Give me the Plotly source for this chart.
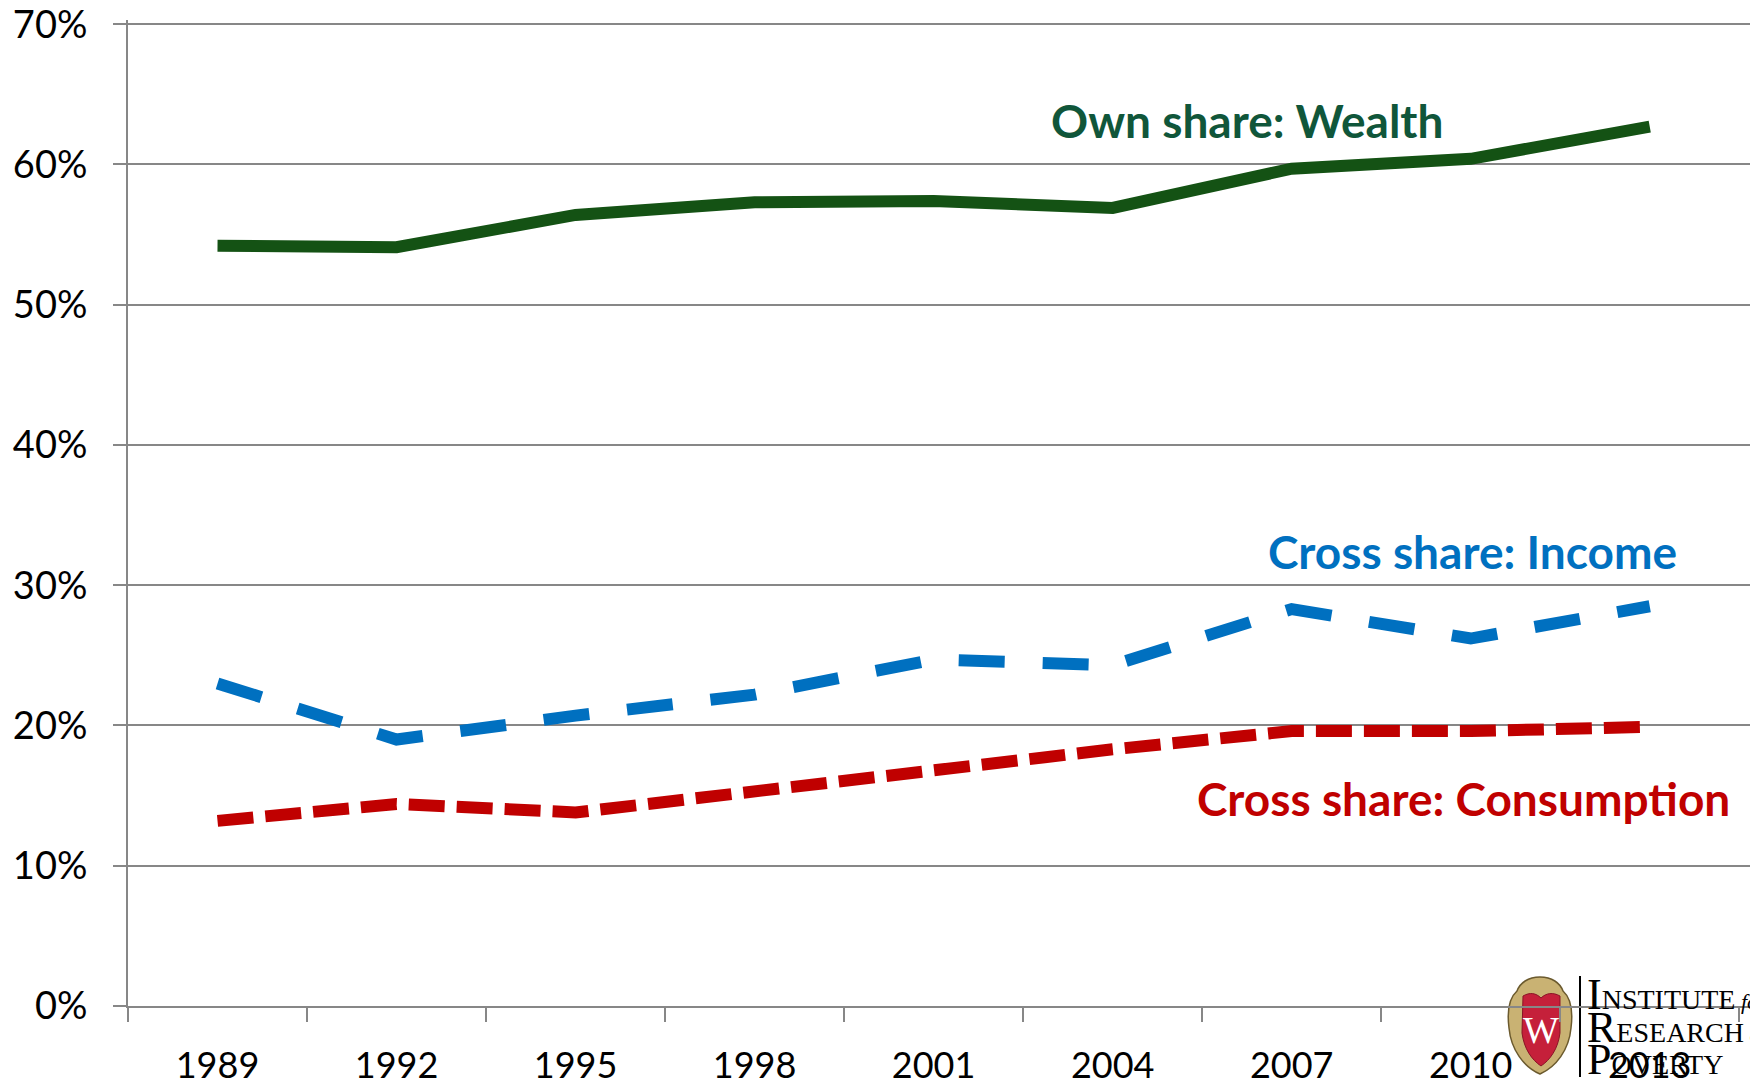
import plotly.graph_objects as go

# ---------------- data ----------------
years = ["1989", "1992", "1995", "1998", "2001", "2004", "2007", "2010", "2013"]
wealth_own = [54.2, 54.1, 56.4, 57.3, 57.4, 56.9, 59.7, 60.4, 62.7]
income_cross = [23.0, 19.0, 20.7, 22.2, 24.7, 24.3, 28.3, 26.2, 28.5]
consumption_cross = [13.2, 14.4, 13.8, 15.3, 16.9, 18.3, 19.6, 19.6, 19.9]
y_ticks = [0, 10, 20, 30, 40, 50, 60, 70]
y_tick_text = ["0%", "10%", "20%", "30%", "40%", "50%", "60%", "70%"]

GREEN_LINE = "#145214"
GREEN_TEXT = "#10563A"
BLUE = "#0070C0"
RED = "#C00000"
GRID = "#878787"

W_PX, H_PX = 1750, 1087
L, R, T, B = 128, 0, 20, 81
PW = W_PX - L - R
PH = H_PX - T - B


def px(x):
    return (x - L) / PW


def py(y):
    return (H_PX - B - y) / PH


def path(cmds):
    out = []
    for c in cmds:
        if isinstance(c, str):
            out.append(c)
        else:
            out.append("%.5f,%.5f" % (px(c[0]), py(c[1])))
    return " ".join(out)


fig = go.Figure()

fig.add_trace(go.Scatter(x=years, y=wealth_own, mode="lines",
                         line=dict(color=GREEN_LINE, width=12), showlegend=False))
fig.add_trace(go.Scatter(x=years, y=income_cross, mode="lines",
                         line=dict(color=BLUE, width=12, dash="46px,38px"), showlegend=False))
fig.add_trace(go.Scatter(x=years, y=consumption_cross, mode="lines",
                         line=dict(color=RED, width=12, dash="36px,12px"), showlegend=False))

LABEL_FONT = "Lato, 'Open Sans', sans-serif"

annotations = [
    dict(text="<b>Own share: Wealth</b>", x=px(1247), y=py(121), xref="paper", yref="paper",
         showarrow=False, xanchor="center", yanchor="middle",
         font=dict(family=LABEL_FONT, size=46, color=GREEN_TEXT)),
    dict(text="<b>Cross share: Income</b>", x=px(1472), y=py(551), xref="paper", yref="paper",
         showarrow=False, xanchor="center", yanchor="middle",
         font=dict(family=LABEL_FONT, size=46, color=BLUE)),
    dict(text="<b>Cross share: Consumption</b>", x=px(1463), y=py(798), xref="paper", yref="paper",
         showarrow=False, xanchor="center", yanchor="middle",
         font=dict(family=LABEL_FONT, size=46, color=RED)),
]

# ---------------- logo (decoration) ----------------
SERIF = "'Liberation Serif', 'DejaVu Serif', serif"
shapes = [
    dict(type="path", xref="paper", yref="paper", layer="below",
         path=path(["M", (1540, 977), "C", (1552, 977), (1560, 983), (1563, 991),
                    "C", (1571, 998), (1573, 1012), (1571, 1028),
                    "C", (1569, 1050), (1556, 1067), (1540, 1074),
                    "C", (1524, 1067), (1511, 1050), (1509, 1028),
                    "C", (1507, 1012), (1509, 998), (1517, 991),
                    "C", (1520, 983), (1528, 977), (1540, 977), "Z"]),
         fillcolor="#C9B273", line=dict(color="#6B5A2E", width=1.5)),
    dict(type="path", xref="paper", yref="paper", layer="below",
         path=path(["M", (1523, 996), "C", (1530, 992), (1536, 993), (1541, 998),
                    "C", (1546, 993), (1553, 992), (1560, 996),
                    "L", (1560, 1033),
                    "C", (1558, 1049), (1550, 1060), (1541, 1066),
                    "C", (1532, 1060), (1524, 1049), (1522, 1033), "Z"]),
         fillcolor="#C5203A", line=dict(color="#8A1426", width=1)),
    dict(type="line", xref="paper", yref="paper", layer="below",
         x0=px(1580), x1=px(1580), y0=py(976), y1=py(1077),
         line=dict(color="black", width=2)),
]

annotations += [
    dict(text="W", x=px(1541), y=py(1030), xref="paper", yref="paper", showarrow=False,
         xanchor="center", yanchor="middle",
         font=dict(family=SERIF, size=38, color="white")),
    dict(text="<span style='font-size:44px'>I</span>NSTITUTE<i><span style='font-size:22px'> fo</span></i>",
         x=px(1585), y=py(994), xref="paper", yref="paper", showarrow=False,
         xanchor="left", yanchor="middle", font=dict(family=SERIF, size=28, color="black")),
    dict(text="<span style='font-size:44px'>R</span>ESEARCH<i><span style='font-size:22px'> on</span></i>",
         x=px(1585), y=py(1027), xref="paper", yref="paper", showarrow=False,
         xanchor="left", yanchor="middle", font=dict(family=SERIF, size=28, color="black")),
    dict(text="<span style='font-size:44px'>P</span>OVERTY",
         x=px(1585), y=py(1059), xref="paper", yref="paper", showarrow=False,
         xanchor="left", yanchor="middle", font=dict(family=SERIF, size=28, color="black")),
]

fig.update_layout(
    width=W_PX, height=H_PX,
    margin=dict(l=L, r=R, t=T, b=B, pad=0),
    paper_bgcolor="white", plot_bgcolor="white",
    showlegend=False,
    annotations=annotations,
    shapes=shapes,
    xaxis=dict(
        type="category",
        range=[-0.5, 8.56],
        tickson="boundaries",
        ticks="outside", ticklen=14, tickwidth=2, tickcolor=GRID,
        showline=True, linecolor=GRID, linewidth=2,
        showgrid=False, zeroline=False,
        tickfont=dict(family=LABEL_FONT, size=36, color="black"),
        ticklabelstandoff=27,
        ticklabeloverflow="allow",
        automargin=False,
    ),
    yaxis=dict(
        range=[0, 70.3],
        tickvals=y_ticks, ticktext=y_tick_text,
        ticks="outside", ticklen=13, tickwidth=2, tickcolor=GRID,
        showline=True, linecolor=GRID, linewidth=2,
        showgrid=True, gridcolor=GRID, gridwidth=2,
        zeroline=False,
        tickfont=dict(family=LABEL_FONT, size=38, color="black"),
        ticklabelstandoff=18,
        ticklabeloverflow="allow",
        automargin=False,
    ),
)

fig.write_html("out.html", config={"displayModeBar": False},
               post_script="document.body.style.margin='0';document.body.style.overflow='hidden';")
